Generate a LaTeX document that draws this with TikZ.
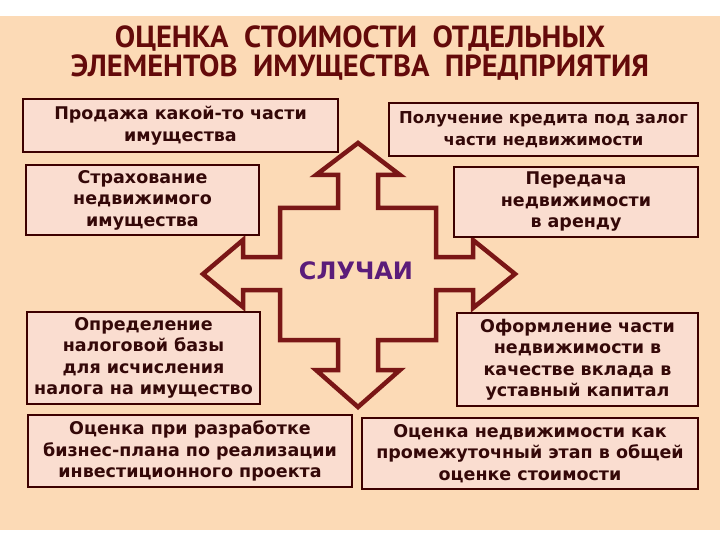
\documentclass[tikz,border=0pt]{standalone}
\usepackage{fontspec}
\setmainfont{DejaVu Sans}
\newfontfamily\titlefont{PT Sans}

\begin{document}
\begin{tikzpicture}[x=1pt,y=-1pt,
    box/.style={draw=black!60!red!60!black, fill={rgb,255:red,250; green,221; blue,208}, line width=1.6pt,
        text={rgb,255:red,52; green,8; blue,8}, align=center, inner sep=0pt,
        font=\bfseries\fontsize{17.5}{21.5}\selectfont},
    cross/.style={draw={rgb,255:red,122; green,22; blue,22}, line width=4.5pt, line join=miter,
        fill={rgb,255:red,252; green,218; blue,182}}]
    \useasboundingbox (0,0) rectangle (720,540);
    \fill[white] (0,0) rectangle (720,540);
    \fill[color={rgb,255:red,252; green,218; blue,182}] (0,16) rectangle (720,530);

    \node[text={rgb,255:red,100; green,10; blue,10}, align=center, font=\titlefont\bfseries\fontsize{30.5}{29}\selectfont] (title) at (360,53.5)
        {ОЦЕНКА\ \ СТОИМОСТИ\ \ ОТДЕЛЬНЫХ\\ЭЛЕМЕНТОВ\ \ ИМУЩЕСТВА\ \ ПРЕДПРИЯТИЯ};

    % cross
    \draw[cross] (358,143) -- (400,175) -- (378,175) -- (378,208) -- (436,208) -- (436,257) -- (473,257)
        -- (473,240) -- (515,274) -- (473,308) -- (473,290) -- (436,290) -- (436,340) -- (378,340)
        -- (378,370) -- (400,370) -- (358,407) -- (316,370) -- (338,370) -- (338,340) -- (280,340)
        -- (280,290) -- (243,290) -- (243,307) -- (203,274) -- (243,240) -- (243,257) -- (280,257)
        -- (280,208) -- (338,208) -- (338,175) -- (316,175) -- cycle;
    \node[text={rgb,255:red,91; green,28; blue,122}, font=\bfseries\fontsize{24}{24}\selectfont] (cases) at (356,271) {СЛУЧАИ};

    %#left
    \node[box, minimum width=315, minimum height=53] (sale) at (180.5,125.5) {Продажа какой-то части\\имущества};
    \node[box, minimum width=233, minimum height=70] (insur) at (142.5,200) {Страхование\\недвижимого\\имущества};
    \node[box, minimum width=233, minimum height=92] (tax) at (143.5,358) {Определение\\налоговой базы\\для исчисления\\налога на имущество};
    \node[box, minimum width=324, minimum height=72] (plan) at (190,451) {Оценка при разработке\\бизнес-плана по реализации\\инвестиционного проекта};

    %#right
    \node[box, minimum width=309, minimum height=53, font=\bfseries\fontsize{16.4}{21.5}\selectfont] (credit) at (543.5,129.5) {Получение кредита под залог\\части недвижимости};
    \node[box, minimum width=244, minimum height=70] (rent) at (576,202) {Передача\\недвижимости\\в аренду};
    \node[box, minimum width=241, minimum height=93] (capital) at (577.5,359.5) {Оформление части\\недвижимости в\\качестве вклада в\\уставный капитал};
    \node[box, minimum width=336, minimum height=71] (stage) at (530,453.5) {Оценка недвижимости как\\промежуточный этап в общей\\оценке стоимости};
\end{tikzpicture}
\end{document}
